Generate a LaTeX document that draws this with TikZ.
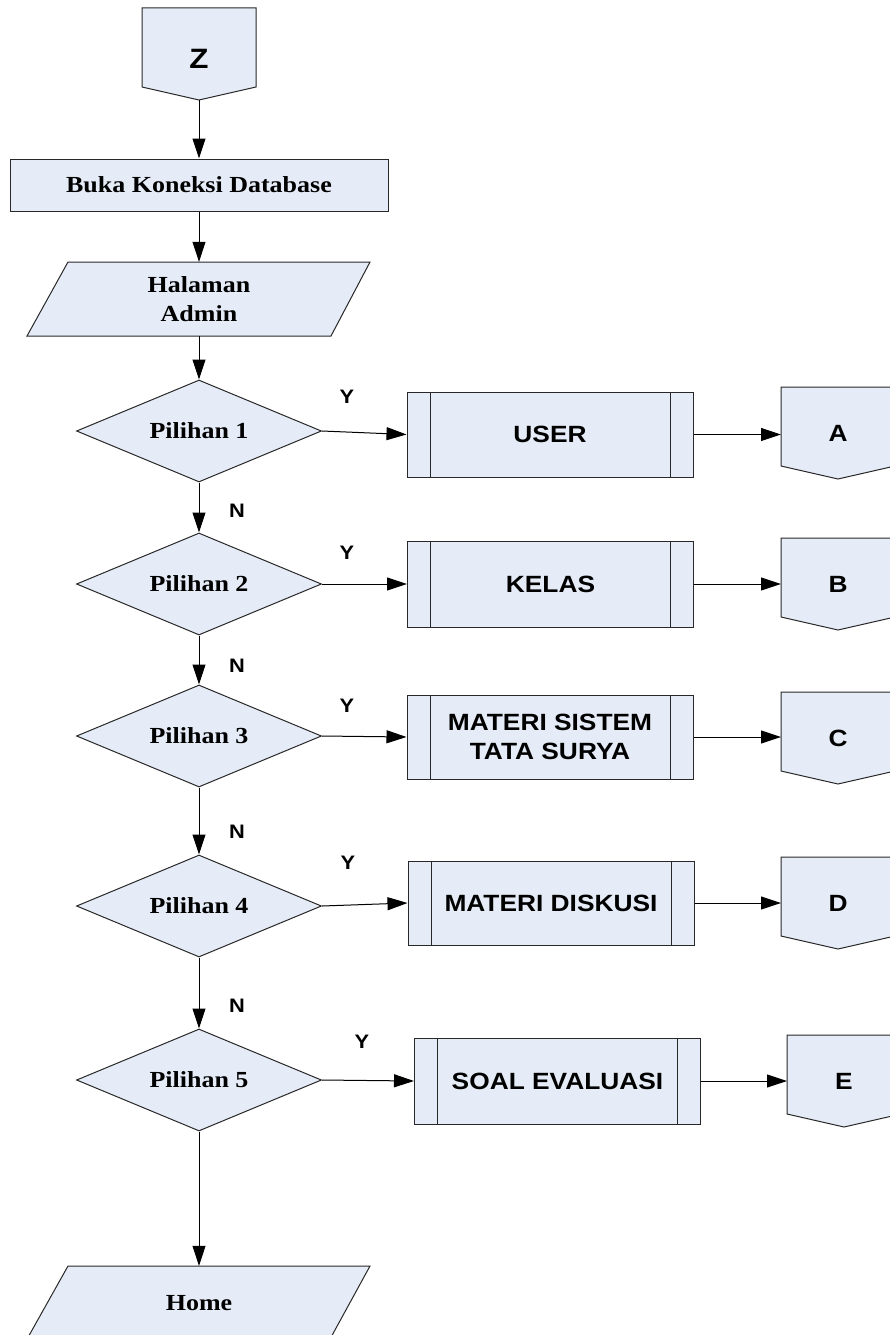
\documentclass[tikz,border=0pt]{standalone}
\usepackage{fontspec}
\setmainfont{Liberation Serif}[FakeStretch=1.13]
\newfontfamily\arialb{Liberation Sans}[FakeStretch=1.12]
\usetikzlibrary{shapes.geometric,arrows.meta}

\definecolor{boxfill}{RGB}{230,236,247}
\definecolor{boxline}{RGB}{40,40,40}

% off-page connector: name, centre x, top y, label, extra label style
\newcommand\offpage[5]{%
  \filldraw[shapeline] (#2-57,#3) -- (#2+57,#3) -- (#2+57,#3+79) -- (#2,#3+92) -- (#2-57,#3+79) -- cycle;
  \node[sansbold,#5] (#1) at (#2,#3+46) {#4};
  \coordinate (#1-w) at (#2-57,#3+46);
  \coordinate (#1-s) at (#2,#3+92);}

\begin{document}
\begin{tikzpicture}[x=1pt,y=-1pt,
  shapeline/.style={draw=boxline, line width=1pt, fill=boxfill},
  serifbold/.style={font=\fontsize{23}{29.5}\selectfont\bfseries, align=center},
  sansbold/.style={font=\arialb\fontsize{23.5}{29}\selectfont\bfseries, align=center},
  tag/.style={font=\arialb\fontsize{19.5}{19.5}\selectfont\bfseries, inner sep=0pt},
  flow/.style={draw=black, line width=1pt, -{Triangle[length=20pt,width=13pt]}},
  decision/.style={shapeline, diamond, aspect=2.4, minimum width=245pt, minimum height=102pt, inner sep=0pt, serifbold},
  predef/.style={shapeline, rectangle, minimum width=286pt, inner sep=0pt, sansbold,
    path picture={\draw[boxline, line width=1pt]
      ([xshift=23pt]path picture bounding box.north west) -- ([xshift=23pt]path picture bounding box.south west)
      ([xshift=-23pt]path picture bounding box.north east) -- ([xshift=-23pt]path picture bounding box.south east);}},
  plainbox/.style={shapeline, rectangle, inner sep=0pt, serifbold},
  iotext/.style={rectangle, inner sep=0pt, serifbold},
]
\fill[white] (0,0) rectangle (890,1335);
\useasboundingbox (0,0) rectangle (890,1335);

% start connector
\offpage{z}{199}{8}{\fontsize{28}{28}\selectfont Z}{yshift=-5pt}

% opening steps
\node[plainbox, minimum width=378pt, minimum height=52pt] (buka) at (199,185) {Buka Koneksi Database};
\filldraw[shapeline] (68,262) -- (370,262) -- (331,336) -- (27,336) -- cycle;
\node[iotext, minimum width=260pt, minimum height=74pt] (admin) at (199,299) {Halaman\\Admin};

% decisions
\node[decision] (d1) at (199,431) {Pilihan 1};
\node[decision] (d2) at (199,584) {Pilihan 2};
\node[decision] (d3) at (199,736) {Pilihan 3};
\node[decision] (d4) at (199,906) {Pilihan 4};
\node[decision] (d5) at (199,1080) {Pilihan 5};

% sub-processes
\node[predef, minimum height=85pt] (p1) at (550,434.5) {USER};
\node[predef, minimum height=86pt] (p2) at (550.5,584) {KELAS};
\node[predef, minimum height=84pt] (p3) at (550,737) {MATERI SISTEM\\TATA SURYA};
\node[predef, minimum height=84pt] (p4) at (551,903) {MATERI DISKUSI};
\node[predef, minimum height=86pt] (p5) at (557.5,1081) {SOAL EVALUASI};

% exit connectors
\offpage{ca}{838}{387}{A}{}
\offpage{cb}{838}{538}{B}{}
\offpage{cc}{838}{692}{C}{}
\offpage{cd}{838}{857}{D}{}
\offpage{ce}{844}{1035}{E}{}

% end output
\filldraw[shapeline] (68,1266) -- (370,1266) -- (329.5,1340) -- (26.5,1340) -- cycle;
\node[iotext, minimum width=260pt, minimum height=74pt] (home) at (199,1303) {Home};

% main column
\draw[flow] (z-s) -- (buka.north);
\draw[flow] (buka.south) -- (admin.north);
\draw[flow] (admin.south) -- (d1.north);
\draw[flow] (d1.south) -- (d2.north);
\draw[flow] (d2.south) -- (d3.north);
\draw[flow] (d3.south) -- (d4.north);
\draw[flow] (d4.south) -- (d5.north);
\draw[flow] (d5.south) -- (home.north);

% yes branches
\draw[flow] (d1.east) -- (p1.west);
\draw[flow] (d2.east) -- (p2.west);
\draw[flow] (d3.east) -- (p3.west);
\draw[flow] (d4.east) -- (p4.west);
\draw[flow] (d5.east) -- (p5.west);
\draw[flow] (p1.east) -- (p1.east -| ca-w);
\draw[flow] (p2.east) -- (p2.east -| cb-w);
\draw[flow] (p3.east) -- (p3.east -| cc-w);
\draw[flow] (p4.east) -- (p4.east -| cd-w);
\draw[flow] (p5.east) -- (p5.east -| ce-w);

% branch labels
\node[tag] (y1) at (347,397) {Y};
\node[tag] (y2) at (347,553) {Y};
\node[tag] (y3) at (347,706) {Y};
\node[tag] (y4) at (348,863) {Y};
\node[tag] (y5) at (362,1042) {Y};
\node[tag] (n1) at (237,511) {N};
\node[tag] (n2) at (237,666) {N};
\node[tag] (n3) at (237,832) {N};
\node[tag] (n4) at (237,1006) {N};
\end{tikzpicture}
\end{document}
